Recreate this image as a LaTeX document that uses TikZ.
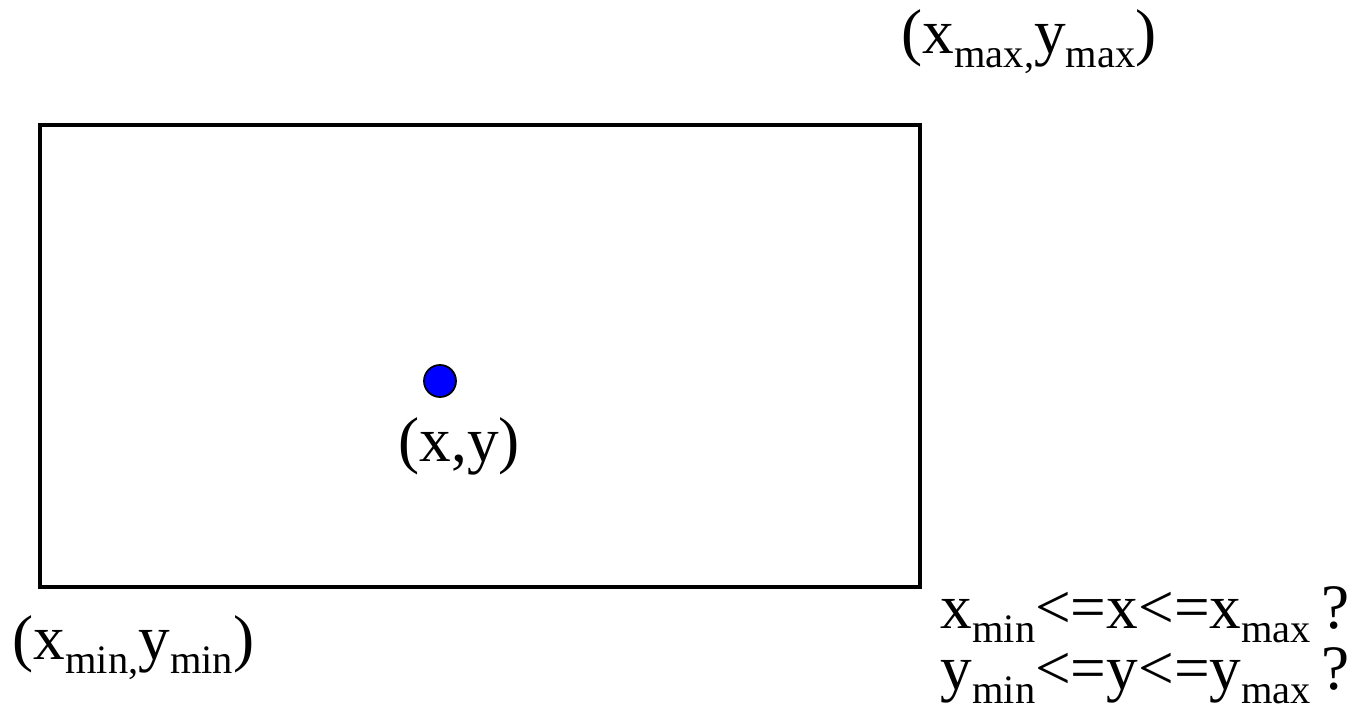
\documentclass[tikz,border=0pt]{standalone}
\usepackage{fontspec}
\setmainfont{Liberation Serif}
\newcommand\sbs[1]{\raisebox{-3.9pt}{\fontsize{11.5}{11.5}\selectfont #1}}
\begin{document}
\begin{tikzpicture}[x=0.01cm,y=-0.01cm,
  lbl/.style={anchor=base west,inner sep=0pt,font=\fontsize{18}{22}\selectfont},
  box/.style={draw=black,line width=1.15pt},
  pt/.style={circle,draw=black,fill=blue,line width=0.5pt,minimum size=0.32cm,inner sep=0pt}]
\useasboundingbox (0,0) rectangle (1360,725);
\node[box,minimum width=8.8cm,minimum height=4.62cm,inner sep=0pt] (rect) at (480,356) {};
\node[pt] (dot) at (440,381) {};
\node[lbl] (xy) at (398,462) {(x,y)};
\node[lbl] (max) at (901,54) {(x\sbs{max,}y\sbs{max})};
\node[lbl] (min) at (12,660) {(x\sbs{min,}y\sbs{min})};
\node[lbl] (cx) at (940,629) {x\sbs{min}<=x<=x\sbs{max}\hspace{3pt}?};
\node[lbl] (cy) at (940,690) {y\sbs{min}<=y<=y\sbs{max}\hspace{3pt}?};
\end{tikzpicture}
\end{document}
